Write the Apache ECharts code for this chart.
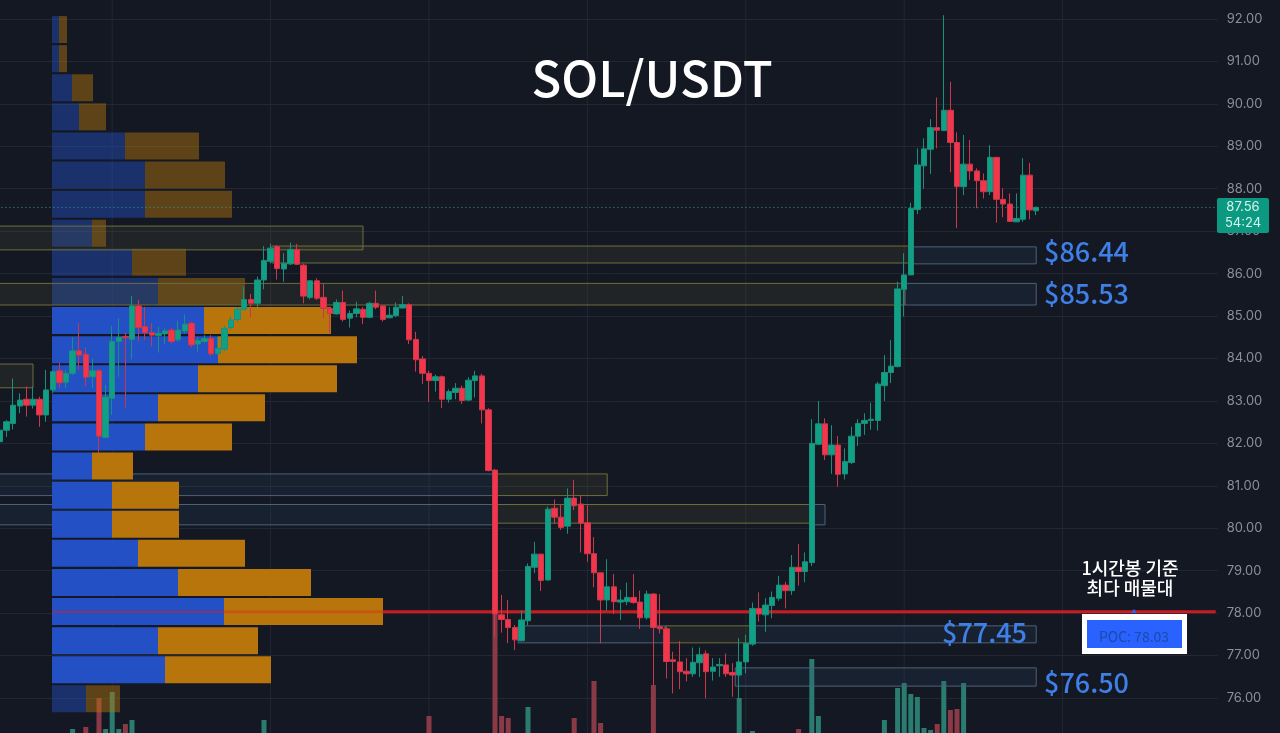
<!DOCTYPE html>
<html>
<head>
<meta charset="utf-8">
<style>
html, body { margin: 0; padding: 0; background: #141823; }
#chart { width: 1280px; height: 733px; }
</style>
<script src="https://cdn.jsdelivr.net/npm/echarts@6/dist/echarts.min.js"></script>
</head>
<body>
<div id="chart"></div>
<script>
// candles, one per hour
var opens = [
82.04,82.31,82.47,82.88,83.04,82.90,83.04,82.67,83.26,83.71,
83.44,83.65,84.18,84.10,83.57,83.71,82.14,83.06,84.40,84.52,
84.45,85.24,84.75,84.61,84.54,84.58,84.67,84.44,84.65,84.83,
84.34,84.40,84.47,84.12,84.22,84.73,84.92,85.16,85.39,85.30,
85.85,86.29,86.64,86.11,86.23,86.57,86.20,85.44,85.83,85.44,
85.18,85.05,85.32,84.95,85.06,85.16,84.97,85.30,85.24,84.96,
85.01,85.19,85.27,84.45,83.99,83.65,83.48,83.57,83.04,83.20,
83.30,83.02,83.48,83.59,82.79,81.37,77.96,77.85,77.66,77.35,
77.82,79.08,79.39,78.78,80.47,80.26,80.05,80.71,80.57,80.13,
79.40,78.95,78.31,78.62,78.26,78.27,78.37,78.26,77.89,78.45,
77.68,77.63,76.90,76.85,76.63,76.57,76.83,77.04,76.63,76.76,
76.78,76.60,76.54,76.85,77.27,78.11,77.96,78.18,78.35,78.66,
78.53,79.08,78.98,79.19,81.98,82.46,81.73,81.96,81.28,81.55,
82.17,82.47,82.54,82.54,83.36,83.67,83.81,85.63,85.97,87.51,
88.54,88.93,89.44,89.37,89.85,89.09,88.05,88.58,88.42,88.19,
87.93,88.74,87.75,87.64,87.22,87.28,88.32,87.48];
var closes = [
82.31,82.51,82.90,83.02,82.90,83.04,82.67,83.26,83.69,83.43,
83.65,84.18,84.08,83.56,83.71,82.17,83.09,84.40,84.50,84.49,
85.24,84.73,84.61,84.55,84.59,84.65,84.40,84.67,84.81,84.32,
84.42,84.47,84.11,84.24,84.71,84.91,85.16,85.39,85.30,85.85,
86.31,86.60,86.12,86.24,86.57,86.22,85.47,85.83,85.42,85.18,
85.06,85.32,84.92,85.06,85.17,84.97,85.30,85.21,84.92,85.02,
85.21,85.27,84.44,83.97,83.65,83.48,83.57,83.04,83.22,83.30,
83.01,83.49,83.59,82.79,81.36,77.98,77.85,77.66,77.37,77.84,
79.10,79.39,78.77,80.45,80.26,80.02,80.71,80.53,80.12,79.40,
78.95,78.31,78.62,78.27,78.31,78.37,78.25,77.89,78.45,77.66,
77.63,76.86,76.86,76.62,76.57,76.84,77.02,76.62,76.73,76.79,
76.57,76.54,76.85,77.29,78.11,77.98,78.19,78.37,78.66,78.53,
79.08,78.98,79.21,82.00,82.46,81.73,81.96,81.27,81.57,82.17,
82.47,82.54,82.57,83.40,83.67,83.82,85.64,85.97,87.54,88.56,
88.94,89.44,89.38,89.85,89.09,88.05,88.58,88.42,88.19,87.93,
88.74,87.75,87.64,87.23,87.30,88.32,87.50,87.56];
var lows = [
81.92,82.15,82.33,82.71,82.63,82.82,82.39,82.51,83.18,83.30,
83.30,83.61,83.73,83.34,83.30,81.77,82.12,82.67,83.57,82.83,
83.98,84.40,84.44,84.29,84.14,84.34,84.36,84.40,84.59,84.26,
84.15,84.36,84.06,84.08,84.18,84.67,84.87,85.14,84.97,85.21,
85.63,86.24,85.86,85.81,86.20,86.20,85.30,85.39,85.38,84.95,
84.60,85.03,84.87,84.73,84.97,84.81,84.95,85.16,84.87,84.95,
84.97,85.18,84.34,83.69,83.40,82.98,83.22,82.83,82.96,83.04,
82.93,83.00,83.08,82.47,81.34,77.44,77.54,77.29,77.13,77.33,
77.71,78.94,78.52,78.77,80.10,79.96,79.87,80.43,79.43,79.21,
78.61,77.29,78.06,77.98,77.84,78.19,78.22,77.63,77.85,76.30,
77.52,76.46,76.11,76.21,76.39,76.50,76.50,75.99,76.41,76.50,
76.50,76.03,76.00,76.58,77.23,77.80,77.56,77.88,78.29,78.11,
78.43,78.65,78.73,79.11,81.96,81.61,81.28,80.98,81.15,81.51,
81.94,82.20,82.32,82.30,83.00,83.42,83.79,84.99,85.97,87.40,
88.00,88.35,88.95,89.37,88.39,87.07,87.85,88.21,87.54,87.77,
87.85,87.20,87.33,87.22,87.22,87.22,87.28,87.38];
var highs = [
82.40,82.55,83.53,83.18,83.34,83.34,83.10,83.73,83.73,83.90,
83.73,84.50,84.84,84.26,84.00,83.75,83.38,84.77,84.95,84.62,
85.47,85.38,85.22,84.83,84.75,84.71,84.73,84.89,85.04,84.87,
84.50,84.55,84.55,84.51,84.77,84.99,85.21,85.69,85.52,85.93,
86.65,86.71,86.67,86.48,86.73,86.70,86.24,85.85,85.89,85.77,
85.22,85.39,85.60,85.13,85.34,85.21,85.34,85.60,85.26,85.21,
85.32,85.47,85.30,84.63,84.06,83.71,83.62,83.60,83.27,83.42,
83.36,83.56,83.71,83.64,82.83,81.40,78.43,78.31,77.72,78.06,
79.17,79.68,79.40,80.51,80.68,80.55,80.94,81.14,80.78,80.55,
79.79,78.96,79.27,78.92,78.55,78.72,78.92,78.53,78.53,78.47,
78.45,77.68,77.09,77.34,76.94,77.19,77.19,77.12,76.94,76.94,
77.05,76.82,77.41,77.49,78.25,78.49,78.35,78.51,78.88,78.74,
79.37,79.63,79.43,82.57,83.00,82.59,82.43,82.17,81.88,82.39,
82.57,82.71,82.96,83.45,84.08,84.44,85.81,86.48,87.67,88.95,
89.19,89.64,90.15,92.09,90.52,89.33,89.27,89.15,88.48,88.36,
89.03,88.74,88.01,87.89,87.89,88.72,88.61,87.58];

// volume, only the hours that show above the bottom edge
var volumeHours = [11,13,15,16,17,18,19,20,40,65,75,76,77,80,87,90,91,99,112,114,121,123,124,134,136,137,138,139,140,141,142,143,144,145,146];
var volumeValues = [4,6,35,4,41,4,9,13,13,17,120,17,15,26,15,52,10,48,35,2,4,74,17,13,45,50,39,36,5,3,9,52,23,24,50];

// volume profile, top bucket first
var profileBuy = [7,7,20,27,73,93,93,40,80,106,152,166,146,106,93,40,60,60,86,126,172,106,113,34];
var profileSell = [8,8,21,27,74,80,87,14,54,87,127,139,139,107,87,41,67,67,107,133,159,100,106,34];

// price zones, x is the hour
var zoneStart = [-2,41.2,137.9,-2,137.1,-2,-2,75.3,-2,75.3,122.7,78.5,100.8,113.6,111.4];
var zoneEnd = [55,137.9,157,137.1,157,5,75.3,92,75.3,122.7,125,100.8,113.6,157,157];
var zoneTop = [87.12,86.65,86.63,85.77,85.77,83.87,81.28,81.28,80.56,80.56,80.56,77.70,77.70,77.70,76.71];
var zoneBottom = [86.56,86.25,86.23,85.26,85.26,83.31,80.77,80.77,80.08,80.12,80.08,77.30,77.30,77.30,76.28];
var zoneKind = [0,0,1,0,1,0,1,0,1,0,1,1,0,1,1]; // 0 sell side, 1 buy side
var zonesBehindProfile = [6,8]; // these two sit under the bright profile bars

var dayLines = [17,41,65,89,113,137,161];
var pocPrice = 78.03;
var lastPrice = 87.56;
var priceMin = 75, priceMax = 93;
var slots = 185;

var hours = [], candles = [], volumes = [], i;
for (i = 0; i < slots; i++) { hours.push('h' + i); volumes.push('-'); }
for (i = 0; i < opens.length; i++) { candles.push([opens[i], closes[i], lows[i], highs[i]]); }
volumeHours.forEach(function (h, n) {
    volumes[h] = {
        value: volumeValues[n],
        itemStyle: { color: closes[h] >= opens[h] ? '#2a7b70' : '#8a3a46' }
    };
});

function profileItems(list) {
    return list.map(function (v, n) {
        return { value: v, itemStyle: { opacity: (n < 10 || n == 23) ? 0.45 : 1 } };
    });
}

var zonesBack = [], zonesFront = [];
zoneStart.forEach(function (s, n) {
    var row = [s, zoneEnd[n], zoneTop[n], zoneBottom[n], zoneKind[n]];
    (zonesBehindProfile.indexOf(n) >= 0 ? zonesBack : zonesFront).push(row);
});

function renderZone(params, api) {
    var a = api.coord([api.value(0), api.value(2)]);
    var b = api.coord([api.value(1), api.value(3)]);
    var buy = api.value(4) == 1;
    return {
        type: 'rect',
        shape: { x: a[0], y: a[1], width: b[0] - a[0], height: b[1] - a[1] },
        style: {
            fill: buy ? 'rgba(50,90,130,0.15)' : 'rgba(115,110,55,0.14)',
            stroke: buy ? '#4d6279' : '#6f6e3a',
            lineWidth: 1
        }
    };
}

function renderDayLine(params, api) {
    var a = api.coord([api.value(0), priceMax]);
    var b = api.coord([api.value(0), priceMin]);
    return {
        type: 'line',
        shape: { x1: a[0], y1: a[1], x2: b[0], y2: b[1] },
        style: { stroke: '#232732', lineWidth: 1 }
    };
}

function label(text, x, y, size, color, align, weight) {
    return {
        type: 'text', x: x, y: y, z: 100,
        style: {
            text: text, fill: color, fontSize: size, fontWeight: weight || 400,
            fontFamily: '"Noto Sans CJK KR", "Noto Sans", sans-serif',
            align: align || 'left', verticalAlign: 'middle', lineHeight: size * 1.12
        }
    };
}

var chart = echarts.init(document.getElementById('chart'));
chart.setOption({
    animation: false,
    backgroundColor: '#141823',
    grid: [
        { left: -3.3, top: -23.44, width: 1221, height: 763.88, outerBoundsMode: 'none' },
        { left: -3.3, top: 533, width: 1221, height: 200, outerBoundsMode: 'none' },
        { left: 52, top: 15, width: 1164, height: 698.4, outerBoundsMode: 'none' }
    ],
    xAxis: [
        { type: 'category', gridIndex: 0, data: hours, show: false },
        { type: 'value', gridIndex: 0, min: -0.5, max: slots - 0.5, show: false },
        { type: 'category', gridIndex: 1, data: hours, show: false },
        { type: 'value', gridIndex: 2, min: 0, max: 1164, show: false }
    ],
    yAxis: [
        {
            type: 'value', gridIndex: 0, position: 'right', min: priceMin, max: priceMax, interval: 1,
            axisLine: { show: false },
            axisTick: { show: false },
            axisLabel: {
                margin: 9, color: '#8b8f99', fontSize: 13, fontFamily: 'Inter',
                formatter: function (v) { return v.toFixed(2); }
            },
            splitLine: { lineStyle: { color: '#232732', width: 1 } }
        },
        { type: 'value', gridIndex: 1, min: 0, max: 200, show: false },
        { type: 'category', gridIndex: 2, inverse: true, show: false, data: profileBuy.map(function (v, n) { return 'b' + n; }) }
    ],
    series: [
        {
            type: 'custom', xAxisIndex: 1, yAxisIndex: 0, z: 1, silent: true,
            data: dayLines.map(function (d) { return [d]; }), renderItem: renderDayLine
        },
        {
            name: 'volume', type: 'bar', xAxisIndex: 2, yAxisIndex: 1, z: 2, barWidth: 5, silent: true,
            data: volumes
        },
        {
            type: 'custom', xAxisIndex: 1, yAxisIndex: 0, z: 2, silent: true,
            data: zonesBack, renderItem: renderZone
        },
        {
            name: 'buy', type: 'bar', xAxisIndex: 3, yAxisIndex: 2, stack: 'profile', z: 3, barWidth: 27, silent: true,
            itemStyle: { color: '#2450c5' }, data: profileItems(profileBuy)
        },
        {
            name: 'sell', type: 'bar', xAxisIndex: 3, yAxisIndex: 2, stack: 'profile', z: 3, barWidth: 27, silent: true,
            itemStyle: { color: '#b8750c' }, data: profileItems(profileSell)
        },
        {
            type: 'line', xAxisIndex: 1, yAxisIndex: 0, z: 4, symbol: 'none', silent: true,
            lineStyle: { color: '#2fa592', width: 1, type: [1, 3] },
            data: [[-1, lastPrice], [184.2, lastPrice]]
        },
        {
            type: 'custom', xAxisIndex: 1, yAxisIndex: 0, z: 5, silent: true,
            data: zonesFront, renderItem: renderZone
        },
        {
            type: 'line', xAxisIndex: 1, yAxisIndex: 0, z: 6, symbol: 'none', silent: true,
            lineStyle: { color: '#e0201c', width: 3, opacity: 0.35 },
            data: [[7.9, pocPrice], [58, pocPrice]]
        },
        {
            type: 'line', xAxisIndex: 1, yAxisIndex: 0, z: 6, symbol: 'none', silent: true,
            lineStyle: { color: '#c91c20', width: 3 },
            data: [[58, pocPrice], [184.2, pocPrice]]
        },
        {
            type: 'candlestick', xAxisIndex: 0, yAxisIndex: 0, z: 7, barWidth: 6, silent: true,
            itemStyle: {
                color: '#0fa085', color0: '#f4364c',
                borderColor: '#1a8f7b', borderColor0: '#c9384b', borderWidth: 1
            },
            data: candles
        }
    ],
    graphic: [
        label('SOL/USDT', 652, 78, 49, '#ffffff', 'center', 500),
        label('$86.44', 1044, 252, 27, '#3f7fe8', 'left', 500),
        label('$85.53', 1044, 294, 27, '#3f7fe8', 'left', 500),
        label('$77.45', 942, 633, 27, '#3f7fe8', 'left', 500),
        label('$76.50', 1044, 683, 27, '#3f7fe8', 'left', 500),
        label('1시간봉 기준\n최다 매물대', 1130, 578, 18, '#ffffff', 'center', 500),
        {
            type: 'polygon', z: 100,
            shape: { points: [[1131, 613], [1137, 613], [1134, 609]] },
            style: { fill: '#2962ff' }
        },
        { type: 'rect', z: 100, shape: { x: 1082, y: 614, width: 105, height: 40 }, style: { fill: '#ffffff' } },
        { type: 'rect', z: 100, shape: { x: 1087, y: 620, width: 95, height: 28 }, style: { fill: '#2962ff' } },
        label('POC: 78.03', 1134, 637, 14, '#1f4aa8', 'center'),
        { type: 'rect', z: 100, shape: { x: 1217, y: 198, width: 52, height: 35, r: 2 }, style: { fill: '#0b9981' } },
        {
            type: 'text', x: 1243, y: 215.5, z: 101,
            style: {
                text: '87.56\n54:24', fill: '#d8f2ec', fontSize: 13, lineHeight: 16,
                fontFamily: 'Inter', align: 'center', verticalAlign: 'middle'
            }
        }
    ]
});
</script>
</body>
</html>
